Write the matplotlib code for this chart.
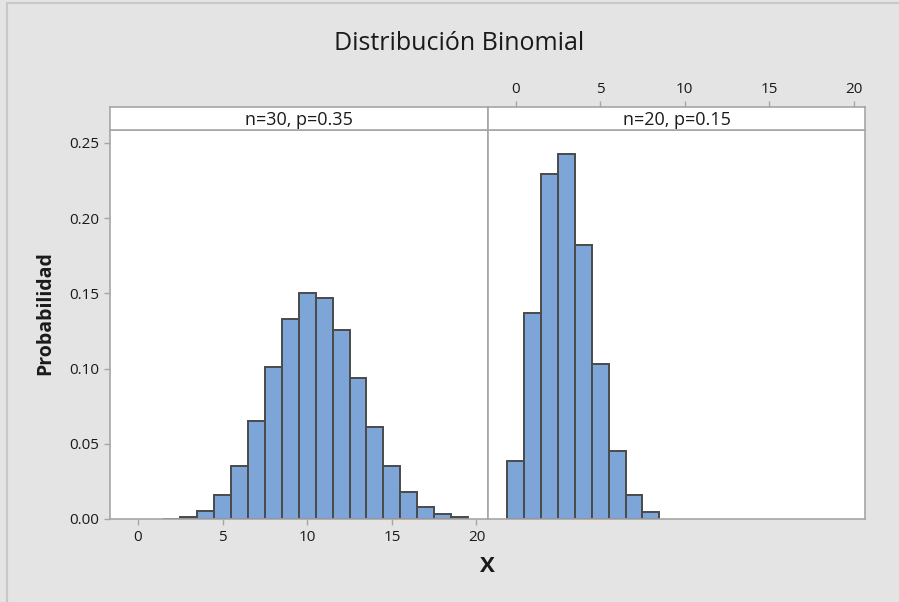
import matplotlib
matplotlib.use("Agg")
import matplotlib.pyplot as plt
from matplotlib.lines import Line2D

plt.rcParams['font.family'] = ['Open Sans', 'DejaVu Sans']

# Data
x_left = [2, 3, 4, 5, 6, 7, 8, 9, 10, 11, 12, 13, 14, 15, 16, 17, 18, 19]
p_left = [0.0003, 0.0015, 0.0056, 0.0157, 0.0353, 0.0652, 0.1009, 0.1328, 0.1502,
          0.1470, 0.1254, 0.0935, 0.0611, 0.0351, 0.0177, 0.0079, 0.0031, 0.0010]
x_right = [0, 1, 2, 3, 4, 5, 6, 7, 8]
p_right = [0.0388, 0.1368, 0.2293, 0.2428, 0.1821, 0.1028, 0.0454, 0.0160, 0.0046]
panel_titles = ["n=30, p=0.35", "n=20, p=0.15"]
xticks = [0, 5, 10, 15, 20]
yticks = [0.00, 0.05, 0.10, 0.15, 0.20, 0.25]

W, H = 899, 602
fig = plt.figure(figsize=(W / 100, H / 100), dpi=100)
fig.patch.set_facecolor('#e4e4e4')

def fx(px):
    return px / W

def fy(py):
    return 1 - py / H

frame_col = '#a6a6a6'
bar_face = '#7da5d7'
bar_edge = '#4a4a4a'
txt_col = '#1a1a1a'
tick_fs = 11

x0, xm, x1 = 110, 488, 865
ytop, ybot, stript = 130, 519, 107

axL = fig.add_axes([fx(x0), fy(ybot), fx(xm - x0), fy(ytop) - fy(ybot)])
axR = fig.add_axes([fx(xm), fy(ybot), fx(x1 - xm), fy(ytop) - fy(ybot)])
sL = fig.add_axes([fx(x0), fy(ytop), fx(xm - x0), fy(stript) - fy(ytop)])
sR = fig.add_axes([fx(xm), fy(ytop), fx(x1 - xm), fy(stript) - fy(ytop)])

xlim = (-1.65, 20.68)
ylim = (0, 0.2586)

for ax, xs, ps in [(axL, x_left, p_left), (axR, x_right, p_right)]:
    ax.bar(xs, ps, width=1.0, color=bar_face, edgecolor=bar_edge, linewidth=1.4, zorder=2)
    ax.set_xlim(*xlim)
    ax.set_ylim(*ylim)
    ax.set_facecolor('white')
    for sp in ax.spines.values():
        sp.set_color(frame_col)
        sp.set_linewidth(1.2)
    ax.tick_params(colors=frame_col, labelcolor=txt_col, labelsize=tick_fs, length=4, width=1, pad=4)

axL.set_xticks(xticks)
axL.set_yticks(yticks)
axL.set_yticklabels([f"{v:.2f}" for v in yticks])
axR.set_xticks([])
axR.set_yticks([])

for s, title in [(sL, panel_titles[0]), (sR, panel_titles[1])]:
    s.set_xlim(*xlim)
    s.set_ylim(0, 1)
    s.set_facecolor('white')
    s.set_yticks([])
    for sp in s.spines.values():
        sp.set_color(frame_col)
        sp.set_linewidth(1.2)
    s.text(0.5, 0.45, title, transform=s.transAxes, ha='center', va='center',
           fontsize=13, fontweight='medium', color=txt_col)

sL.set_xticks([])
sR.set_xticks(xticks)
sR.xaxis.set_ticks_position('top')
sR.tick_params(axis='x', colors=frame_col, labelcolor=txt_col, labelsize=tick_fs, length=4, width=1, pad=3)

fig.text(fx(459), fy(43), "Distribución Binomial", ha='center', va='center',
         fontsize=18, fontweight='medium', color=txt_col)
fig.text(fx(45), fy(313), "Probabilidad", ha='center', va='center', rotation=90,
         fontsize=14, fontweight='bold', color=txt_col)
fig.text(fx(487), fy(566), "X", ha='center', va='center',
         fontsize=16, fontweight='bold', color=txt_col)

# screenshot border lines
fig.add_artist(Line2D([fx(7), fx(7)], [0, fy(3)], color='#c8c8c8', lw=1.5))
fig.add_artist(Line2D([fx(7), 1], [fy(3), fy(3)], color='#c8c8c8', lw=1.5))

fig.savefig("out.png", dpi=100, facecolor=fig.get_facecolor())
